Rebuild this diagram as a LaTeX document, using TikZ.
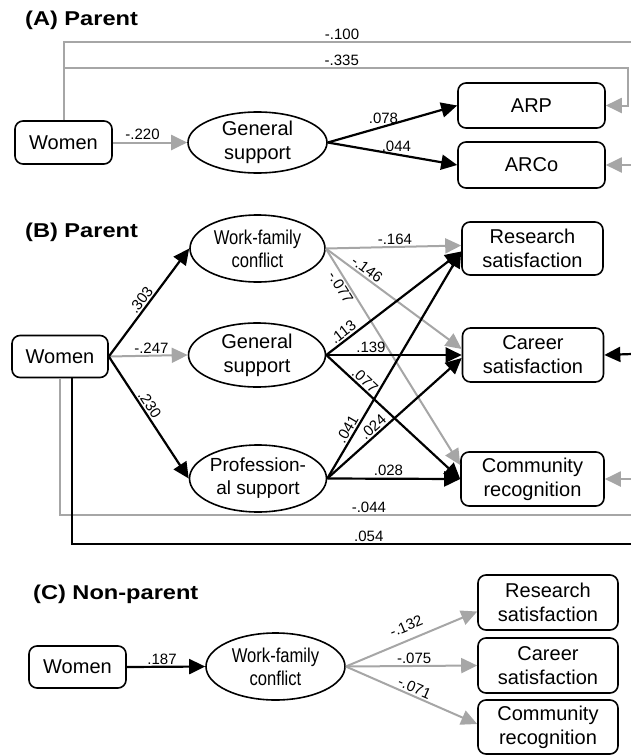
\documentclass[tikz,border=0pt]{standalone}
\usepackage{fontspec}
\setmainfont{Liberation Sans}
\newfontfamily\condfont{Liberation Sans}[FakeStretch=0.83]
\newfontfamily\titlefont{Liberation Sans}[FakeStretch=1.18]
\usetikzlibrary{shapes.geometric,arrows.meta}
\definecolor{lgray}{RGB}{166,166,166}
\begin{document}
\begin{tikzpicture}[x=1pt,y=-1pt,
  box/.style={draw, line width=1.6pt, rounded corners=8pt, align=center, inner sep=0pt, font=\fontsize{20}{24}\selectfont},
  ell/.style={draw, ellipse, line width=1.6pt, align=center, inner sep=0pt, font=\fontsize{20}{24}\selectfont},
  condtext/.style={font=\condfont\fontsize{20}{23}\selectfont},
  ttl/.style={anchor=west, inner sep=0pt, font=\titlefont\bfseries\fontsize{20}{24}\selectfont},
  lab/.style={font=\fontsize{15}{18}\selectfont, inner sep=1.5pt},
  blk/.style={line width=2.2pt, draw=black, -{Triangle[length=16pt,width=15pt]}},
  gry/.style={line width=2pt, draw=lgray, -{Triangle[length=16pt,width=15pt]}},
  blkline/.style={line width=2.2pt, draw=black},
  gryline/.style={line width=2pt, draw=lgray},
]
\useasboundingbox (0,0) rectangle (631,755);

% ---------------- Panel A ----------------
\node[ttl] (tA) at (25,20) {(A) Parent};
\node[box, minimum width=97pt, minimum height=43pt] (womenA) at (63.5,142.5) {Women};
\node[ell, minimum width=139pt, minimum height=61pt] (gsA) at (257.5,142.5) {General\\support};
\node[box, minimum width=147pt, minimum height=45pt] (arp) at (531.5,105.5) {ARP};
\node[box, minimum width=147pt, minimum height=46pt] (arco) at (531.5,165) {ARCo};

\coordinate (jA1) at (63.5,42);
\coordinate (jA2) at (63.5,68);
\coordinate (eA1) at (632,42);
\coordinate (kA) at (628,68);
\coordinate (eA2) at (632,165);

\draw[gryline] (womenA.north) -- (jA1) -- node[lab, above, pos=0.49]{-.100} (eA1);
\draw[gry] (jA2) -- node[lab, above, pos=0.493]{-.335} (kA) |- (arp.east);
\draw[gry] (eA2) -- (arco.east);
\draw[gry] (womenA.east) -- node[lab, above, pos=0.4]{-.220} (gsA.west);
\draw[blk] (gsA.east) -- node[lab, above, pos=0.43]{.078} (arp.west);
\draw[blk] (gsA.east) -- node[lab, above, pos=0.53]{.044} (arco.west);

% ---------------- Panel B ----------------
\node[ttl] (tB) at (25,232) {(B) Parent};
\node[box, minimum width=96pt, minimum height=42pt] (womenB) at (60,356.5) {Women};
\node[ell, condtext, minimum width=135pt, minimum height=67pt] (wfcB) at (257.5,248.5) {Work-family\\conflict};
\node[ell, minimum width=137pt, minimum height=64pt] (gsB) at (257,355) {General\\support};
\node[ell, minimum width=137pt, minimum height=67pt, font=\fontsize{19}{23}\selectfont] (psB) at (258,478.5) {Profession-\\al support};
\node[box, minimum width=141pt, minimum height=53pt] (rsB) at (532.5,248.5) {Research\\satisfaction};
\node[box, minimum width=141pt, minimum height=54pt] (csB) at (533,355) {Career\\satisfaction};
\node[box, minimum width=143pt, minimum height=54pt] (crB) at (532.5,479) {Community\\recognition};

\coordinate (jB1) at (60,515);
\coordinate (eB1) at (632,515);
\coordinate (jB2) at (72,544);
\coordinate (eB2) at (632,544);
\coordinate (eB3) at (632,354);
\coordinate (eB4) at (632,479);

\draw[gryline] (womenB.south) -- (jB1) -- node[lab, above, pos=0.54]{-.044} (eB1);
\draw[blkline] ([xshift=12pt]womenB.south) -- (jB2) -- node[lab, above, pos=0.53]{.054} (eB2);
\draw[blk] (eB3) -- (csB.east);
\draw[gry] (eB4) -- (crB.east);

\draw[gry] (womenB.east) -- node[lab, above, pos=0.54]{-.247} (gsB.west);
\draw[gry] (wfcB.east) -- node[lab, above, pos=0.51]{-.164} ([yshift=3pt]rsB.west);
\draw[gry] (wfcB.east) -- node[lab, sloped, above, pos=0.27]{-.146} ([yshift=6pt]csB.west);
\draw[gry] (wfcB.east) -- node[lab, sloped, below, pos=0.16]{-.077} ([yshift=14pt]crB.west);

\draw[blk] (womenB.east) -- node[lab, sloped, above, pos=0.48]{.303} (wfcB.west);
\draw[blk] (womenB.east) -- node[lab, sloped, above, pos=0.43]{.230} (psB.west);
\draw[blk] (gsB.east) -- node[lab, sloped, above, pos=0.16]{.113} ([yshift=-3pt]rsB.west);
\draw[blk] (gsB.east) -- node[lab, above, pos=0.33]{.139} (csB.west);
\draw[blk] (gsB.east) -- node[lab, sloped, above, pos=0.25]{.077} (crB.west);
\draw[blk] (psB.east) -- node[lab, sloped, above, pos=0.2]{.041} ([yshift=-3pt]rsB.west);
\draw[blk] (psB.east) -- node[lab, sloped, above, pos=0.38]{.024} ([yshift=-3pt]csB.west);
\draw[blk] (psB.east) -- node[lab, above, pos=0.46]{.028} (crB.west);

% ---------------- Panel C ----------------
\node[ttl] (tC) at (33,594) {(C) Non-parent};
\node[box, minimum width=97pt, minimum height=42pt] (womenC) at (77.5,667) {Women};
\node[ell, condtext, minimum width=139pt, minimum height=67pt] (wfcC) at (275.5,666.5) {Work-family\\conflict};
\node[box, minimum width=140pt, minimum height=55pt] (rsC) at (548,602.5) {Research\\satisfaction};
\node[box, minimum width=140pt, minimum height=55pt] (csC) at (548,665.5) {Career\\satisfaction};
\node[box, minimum width=140pt, minimum height=54pt] (crC) at (548,727) {Community\\recognition};

\draw[blk] (womenC.east) -- node[lab, above, pos=0.45]{.187} (wfcC.west);
\draw[gry] (wfcC.east) -- node[lab, sloped, above=6pt, pos=0.5]{-.132} ([yshift=-9pt]rsC.west);
\draw[gry] (wfcC.east) -- node[lab, above, pos=0.52]{-.075} (csC.west);
\draw[gry] (wfcC.east) -- node[lab, sloped, above, pos=0.5]{-.071} ([yshift=3pt]crC.west);
\end{tikzpicture}
\end{document}
